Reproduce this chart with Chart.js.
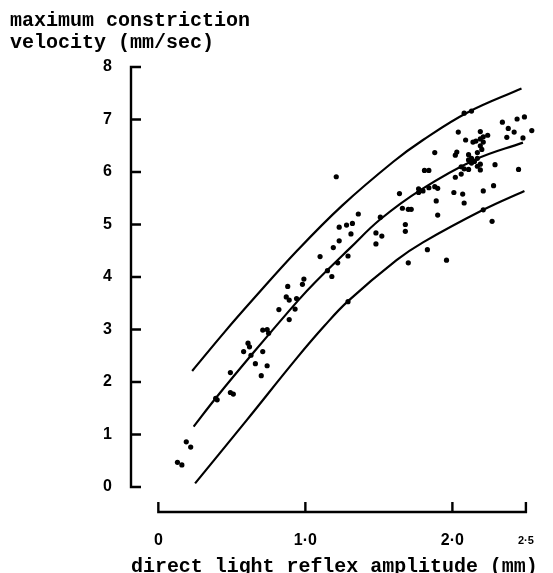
<!DOCTYPE html>
<html>
<head>
<meta charset="utf-8">
<script src="https://cdn.jsdelivr.net/npm/chart.js@4.4.1/dist/chart.umd.min.js"></script>
<style>
  html, body { margin: 0; padding: 0; background: #fff; }
  canvas { display: block; }
</style>
</head>
<body>
<canvas id="reflexChart" width="553" height="573"></canvas>
<script>
// measured points: direct light reflex amplitude (mm) vs max constriction velocity (mm/sec)
const amplitude = [0.13, 0.16, 0.19, 0.22, 0.39, 0.40, 0.49, 0.51, 0.49, 0.58,
  0.61, 0.62, 0.63, 0.66, 0.71, 0.74, 0.70, 0.71, 0.74, 0.75,
  0.82, 0.89, 0.87, 0.93, 0.89, 0.94, 0.88, 0.99, 0.98, 1.10,
  1.15, 1.18, 1.22, 1.29, 1.19, 1.23, 1.23, 1.28, 1.32, 1.31,
  1.36, 1.21, 1.51, 1.48, 1.52, 1.48, 1.66, 1.70, 1.72, 1.68,
  1.68, 1.64, 1.77, 1.77, 1.80, 1.70, 1.83, 1.96, 1.88, 1.90,
  1.81, 1.84, 1.88, 1.89, 1.90, 2.01, 2.07, 2.08, 2.02, 2.06,
  2.06, 2.08, 2.11, 2.19, 2.02, 2.03, 2.11, 2.11, 2.13, 2.15,
  2.17, 2.19, 2.17, 2.21, 2.28, 2.21, 2.27, 2.29, 2.45, 2.04,
  2.19, 2.09, 2.08, 2.13, 2.34, 2.38, 2.42, 2.44, 2.49, 2.54,
  2.37, 2.48, 2.14, 2.16, 2.19, 2.21, 2.24, 2.21, 2.19, 2.20,
  2.17, 1.84, 2.13, 1.29];
const velocity = [0.47, 0.42, 0.86, 0.76, 1.69, 1.66, 1.80, 1.77, 2.18, 2.58,
  2.74, 2.67, 2.51, 2.35, 2.58, 2.31, 2.12, 2.99, 3.00, 2.93,
  3.38, 3.56, 3.62, 3.39, 3.19, 3.59, 3.82, 3.96, 3.86, 4.39,
  4.12, 4.01, 4.27, 4.40, 4.56, 4.69, 4.95, 4.99, 5.02, 4.82,
  5.20, 5.91, 5.14, 4.84, 4.78, 4.63, 5.31, 5.29, 5.29, 5.00,
  4.87, 5.59, 5.68, 5.61, 5.64, 4.27, 4.52, 4.32, 5.72, 5.69,
  6.03, 6.03, 6.37, 5.45, 5.18, 5.61, 5.58, 5.41, 5.90, 5.96,
  6.10, 6.06, 6.05, 6.04, 6.32, 6.38, 6.33, 6.23, 6.17, 6.20,
  6.26, 6.15, 6.11, 5.64, 5.74, 5.28, 5.06, 6.14, 6.05, 6.76,
  6.77, 6.61, 7.12, 7.16, 6.95, 6.83, 6.76, 7.01, 7.05, 6.79,
  6.66, 6.65, 6.57, 6.59, 6.63, 6.67, 6.70, 6.57, 6.50, 6.43,
  6.37, 5.70, 6.26, 3.53];

// fitted curve and the two limit curves
const fitX = [0.24, 0.39, 0.65, 0.95, 1.07, 1.30, 1.51, 1.79, 2.15, 2.48];
const fitY = [1.15, 1.69, 2.57, 3.55, 3.91, 4.54, 5.10, 5.67, 6.23, 6.56];
const upperX = [0.23, 0.45, 0.64, 0.94, 1.25, 1.60, 1.80, 2.10, 2.47];
const upperY = [2.21, 2.95, 3.56, 4.49, 5.36, 6.20, 6.61, 7.13, 7.59];
const lowerX = [0.25, 0.60, 0.94, 1.13, 1.29, 1.62, 1.80, 2.21, 2.49];
const lowerY = [0.07, 1.27, 2.45, 3.07, 3.54, 4.32, 4.66, 5.28, 5.64];

const xTicks = [0, 1, 2, 2.5];
const xTickLabels = ["0", "1·0", "2·0", "2·5"];
const yTicks = [0, 1, 2, 3, 4, 5, 6, 7, 8];

const toPoints = (xs, ys) => xs.map((v, i) => ({ x: v, y: ys[i] }));

const curve = (xs, ys) => ({
  data: toPoints(xs, ys),
  showLine: true,
  borderColor: "#000",
  borderWidth: 2.2,
  pointRadius: 0,
  tension: 0.4,
  fill: false
});

// axes drawn as in the paper: detached, only spanning 0-8 and 0-2.5, ticks pointing inward
const bracketAxes = {
  id: "bracketAxes",
  afterDatasetsDraw(chart) {
    const { ctx, chartArea, scales: { x, y } } = chart;
    const left = chartArea.left, bottom = chartArea.bottom;
    ctx.save();
    ctx.strokeStyle = "#000";
    ctx.lineWidth = 2.4;
    ctx.beginPath();
    const yTop = y.getPixelForValue(yTicks[yTicks.length - 1]);
    const yBot = y.getPixelForValue(yTicks[0]);
    ctx.moveTo(left + 10, yTop);
    ctx.lineTo(left, yTop);
    ctx.lineTo(left, yBot);
    ctx.lineTo(left + 10, yBot);
    yTicks.forEach(v => {
      const py = y.getPixelForValue(v);
      ctx.moveTo(left, py);
      ctx.lineTo(left + 10, py);
    });
    const xl = x.getPixelForValue(xTicks[0]);
    const xr = x.getPixelForValue(xTicks[xTicks.length - 1]);
    ctx.moveTo(xl, bottom - 10);
    ctx.lineTo(xl, bottom);
    ctx.lineTo(xr, bottom);
    ctx.lineTo(xr, bottom - 10);
    xTicks.forEach(v => {
      const px = x.getPixelForValue(v);
      ctx.moveTo(px, bottom);
      ctx.lineTo(px, bottom - 10);
    });
    ctx.stroke();
    ctx.restore();
  }
};

new Chart(document.getElementById("reflexChart"), {
  type: "scatter",
  data: {
    datasets: [
      {
        data: toPoints(amplitude, velocity),
        pointRadius: 2.6,
        pointBackgroundColor: "#000",
        pointBorderWidth: 0
      },
      curve(upperX, upperY),
      curve(fitX, fitY),
      curve(lowerX, lowerY)
    ]
  },
  options: {
    responsive: false,
    animation: false,
    devicePixelRatio: 1,
    layout: { padding: { left: 10, right: 5, top: 0, bottom: 0 } },
    plugins: {
      legend: { display: false },
      tooltip: { enabled: false },
      title: {
        display: true,
        text: ["maximum constriction", "velocity (mm/sec)"],
        align: "start",
        color: "#000",
        font: { family: "'Liberation Mono', monospace", size: 20, weight: "bold", lineHeight: 1.1 },
        padding: { top: 10, bottom: 13 }
      }
    },
    scales: {
      x: {
        type: "linear",
        min: -0.186,
        max: 2.58,
        grid: { display: false, drawTicks: false },
        border: { display: false },
        afterBuildTicks: s => { s.ticks = xTicks.map(v => ({ value: v })); },
        afterFit: s => { s.height = 61; },
        ticks: {
          autoSkip: false,
          maxRotation: 0,
          padding: 19,
          color: "#000",
          font: c => (c.tick && c.tick.value === 2.5)
            ? { family: "'Liberation Sans', Arial, sans-serif", size: 11, weight: "bold", lineHeight: 1.75 }
            : { family: "'Liberation Sans', Arial, sans-serif", size: 16, weight: "bold", lineHeight: 1.2 },
          callback: v => xTickLabels[xTicks.indexOf(v)]
        },
        title: {
          display: true,
          text: "direct light reflex amplitude (mm)",
          color: "#000",
          font: { family: "'Liberation Mono', monospace", size: 20.5, weight: "bold", lineHeight: 1 },
          padding: { top: 0, bottom: -4 }
        }
      },
      y: {
        type: "linear",
        min: -0.476,
        max: 8,
        grid: { display: false, drawTicks: false },
        border: { display: false },
        afterBuildTicks: s => { s.ticks = yTicks.map(v => ({ value: v })); },
        afterFit: s => { s.width = 121; },
        ticks: {
          padding: 19,
          color: "#000",
          font: { family: "'Liberation Sans', Arial, sans-serif", size: 16, weight: "bold" },
          callback: v => String(v)
        }
      }
    }
  },
  plugins: [bracketAxes]
});
</script>
</body>
</html>
